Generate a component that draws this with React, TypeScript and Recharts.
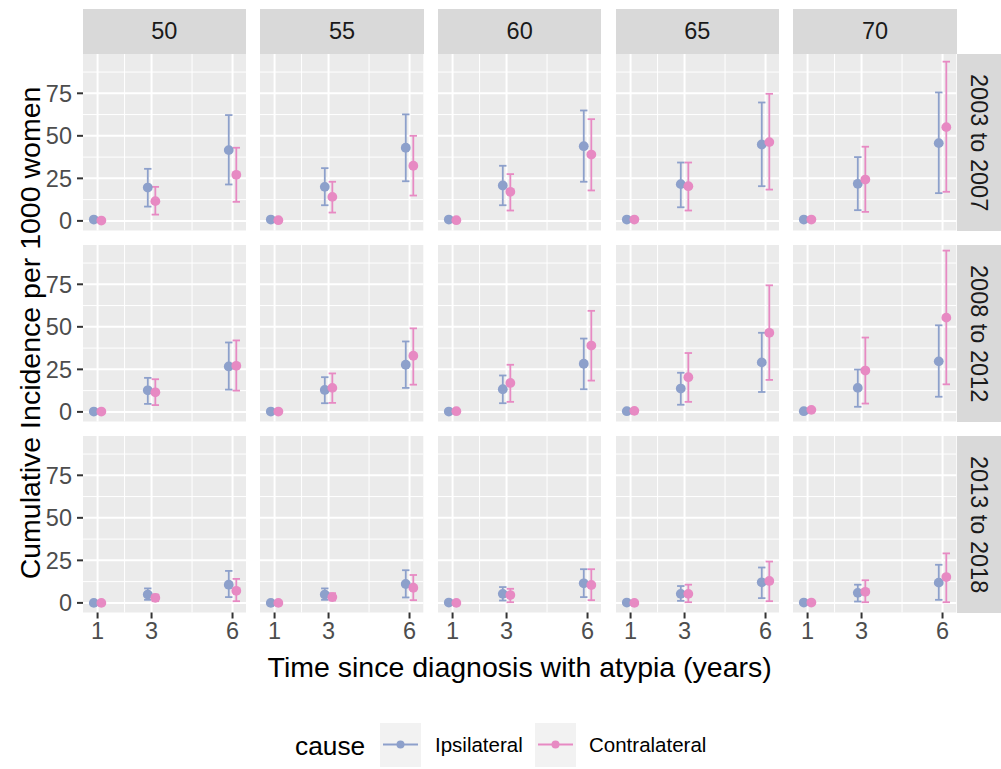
import { ScatterChart, Scatter, XAxis, YAxis, CartesianGrid, ErrorBar } from 'recharts';

const ages = ['50', '55', '60', '65', '70'];
const periods = ['2003 to 2007', '2008 to 2012', '2013 to 2018'];
const times = [1, 3, 6];
const causes = ['Ipsilateral', 'Contralateral'];
const yTicks = [0, 25, 50, 75];
const yMinor = [12.5, 37.5, 62.5, 87.5];
const xMinor = [2, 4.5];

// [period][age][time] -- per 1000 women
const ipsiEst = [
  [[0.8, 19.6, 41.6], [0.8, 20.0, 43.0], [0.8, 20.8, 43.9], [0.8, 21.6, 44.9], [0.8, 21.8, 45.7]],
  [[0.2, 12.7, 26.7], [0.2, 12.9, 27.7], [0.2, 13.3, 28.3], [0.4, 13.7, 29.1], [0.4, 14.1, 29.7]],
  [[0, 4.9, 10.7], [0, 4.9, 11.1], [0.2, 5.3, 11.5], [0.2, 5.3, 12.1], [0.2, 5.9, 11.9]],
];
const ipsiLow = [
  [[0, 8.4, 21.4], [0, 9.2, 23.3], [0, 9.2, 23.0], [0, 8.0, 20.4], [0, 6.3, 16.3]],
  [[0, 4.7, 13.1], [0, 5.1, 14.1], [0, 5.1, 13.3], [0, 4.2, 11.7], [0, 3.0, 8.9]],
  [[-0.5, 1.8, 3.4], [-0.5, 1.8, 3.2], [-0.5, 1.4, 3.4], [-0.5, 1.2, 2.8], [-0.5, 0.8, 1.8]],
];
const ipsiHigh = [
  [[1.8, 30.6, 62.2], [1.8, 31.0, 62.6], [1.8, 32.4, 64.9], [1.8, 34.3, 69.6], [1.8, 37.5, 75.5]],
  [[1, 20.0, 40.8], [1, 20.4, 41.4], [1, 21.4, 43.1], [1.2, 23.0, 46.5], [1.2, 24.9, 50.9]],
  [[0.5, 8.5, 18.8], [0.5, 8.5, 19.2], [0.8, 9.3, 19.8], [0.8, 9.9, 20.8], [0.8, 10.7, 22.4]],
];
const contraEst = [
  [[0.2, 11.6, 27.1], [0.4, 14.1, 32.4], [0.4, 17.1, 39.0], [0.8, 20.4, 46.3], [0.8, 24.3, 55.1]],
  [[0.2, 11.5, 27.1], [0.2, 14.1, 33.0], [0.4, 17.0, 39.0], [0.6, 20.4, 46.5], [1.2, 24.3, 55.4]],
  [[0, 3.0, 7.1], [0, 3.4, 8.9], [0, 4.6, 10.5], [0, 5.3, 12.9], [0.2, 6.5, 15.2]],
];
const contraLow = [
  [[0, 3.7, 11.2], [0, 4.9, 14.9], [0, 6.1, 17.9], [0, 6.1, 18.4], [0, 5.3, 17.1]],
  [[0, 4.0, 12.5], [0, 5.3, 16.0], [0, 5.9, 18.4], [0, 5.9, 18.8], [0, 4.9, 16.2]],
  [[-0.5, 1.0, 1.0], [-0.5, 1.4, 1.6], [-0.5, 0.4, 1.6], [-0.5, 0.4, 1.0], [-0.5, 0.4, 0.4]],
];
const contraHigh = [
  [[1.0, 20.0, 43.0], [1.2, 23.0, 50.0], [1.2, 27.5, 59.8], [1.6, 34.3, 74.7], [1.8, 43.6, 93.6]],
  [[1, 19.2, 42.0], [1, 22.6, 49.1], [1.2, 27.7, 59.4], [1.5, 34.6, 74.4], [2.2, 43.7, 94.8]],
  [[0.5, 4.9, 14.1], [0.5, 5.7, 16.4], [0.5, 8.3, 19.8], [0.8, 10.7, 24.3], [1, 13.3, 29.1]],
];

const COLORS = ['#8DA0CB', '#E78AC3'];
const DODGE = [-0.14, 0.14];
const EST = [ipsiEst, contraEst];
const LOW = [ipsiLow, contraLow];
const HIGH = [ipsiHigh, contraHigh];

const X0 = 82.7;
const STEP_X = 177.65;
const PW = 163.3;
const Y0 = 54;
const STEP_Y = 191;
const PH = 176.5;
const STRIP = 44.7;
const Y_AXIS_W = 50;
const X_AXIS_H = 40;
const LABEL_PAD = 14; // room under the left panels so the "0" label is not clipped
const FONT = '"Liberation Sans", Arial, sans-serif';
const TICK_SIZE = 23.5;
const TITLE_SIZE = 28.5;

function Panel({ row, col }: { row: number; col: number }) {
  const isLeft = col === 0;
  const isBottom = row === 2;
  const pad = isLeft && !isBottom ? LABEL_PAD : 0;
  const width = PW + (isLeft ? Y_AXIS_W : 0);
  const height = PH + (isBottom ? X_AXIS_H : 0) + pad;
  const left = X0 + col * STEP_X - (isLeft ? Y_AXIS_W : 0);
  const top = Y0 + row * STEP_Y;

  const series = causes.map((_, k) =>
    times.map((t, i) => {
      const y = EST[k][row][col][i];
      return { x: t + DODGE[k], y, err: [y - LOW[k][row][col][i], HIGH[k][row][col][i] - y] };
    })
  );

  const tickStyle = { fontSize: TICK_SIZE, fill: '#4D4D4D', fontFamily: FONT };

  return (
    <div style={{ position: 'absolute', left, top }}>
      <ScatterChart width={width} height={height} margin={{ top: 0, right: 0, bottom: pad, left: 0 }}>
        <CartesianGrid
          fill="#EBEBEB"
          stroke="#FFFFFF"
          strokeWidth={1}
          horizontalValues={yMinor}
          verticalValues={xMinor}
        />
        <CartesianGrid stroke="#FFFFFF" strokeWidth={2} horizontalValues={yTicks} verticalValues={times} />
        <XAxis
          type="number"
          dataKey="x"
          domain={[0.46, 6.51]}
          ticks={times}
          interval={0}
          allowDataOverflow
          hide={!isBottom}
          height={X_AXIS_H}
          axisLine={false}
          tickSize={6}
          tickMargin={4}
          tickLine={{ stroke: '#333333', strokeWidth: 2 }}
          tick={tickStyle}
        />
        <YAxis
          type="number"
          dataKey="y"
          domain={[-5.65, 98.1]}
          ticks={yTicks}
          interval={0}
          allowDataOverflow
          hide={!isLeft}
          width={Y_AXIS_W}
          axisLine={false}
          tickSize={6}
          tickMargin={5}
          tickLine={{ stroke: '#333333', strokeWidth: 2 }}
          tick={tickStyle}
        />
        {series.map((data, k) => (
          <Scatter
            key={'err' + k}
            data={data}
            isAnimationActive={false}
            shape={() => <g />}
          >
            <ErrorBar dataKey="err" direction="y" width={3.7} strokeWidth={1.8} stroke={COLORS[k]} />
          </Scatter>
        ))}
        {series.map((data, k) => (
          <Scatter
            key={'pt' + k}
            data={data}
            isAnimationActive={false}
            shape={(p: any) => <circle cx={p.cx} cy={p.cy} r={4.9} fill={COLORS[k]} />}
          />
        ))}
      </ScatterChart>
    </div>
  );
}

export default function App() {
  return (
    <div
      style={{
        position: 'absolute',
        left: 0,
        top: 0,
        width: 1001,
        height: 769,
        background: '#FFFFFF',
        fontFamily: FONT,
        overflow: 'hidden',
      }}
    >
      {ages.map((a, c) => (
        <div
          key={a}
          style={{
            position: 'absolute',
            left: X0 + c * STEP_X,
            top: Y0 - STRIP,
            width: PW,
            height: STRIP,
            background: '#D9D9D9',
            color: '#1A1A1A',
            fontSize: TICK_SIZE,
            display: 'flex',
            alignItems: 'center',
            justifyContent: 'center',
          }}
        >
          {a}
        </div>
      ))}
      {periods.map((p, r) => (
        <div
          key={p}
          style={{
            position: 'absolute',
            left: X0 + 4 * STEP_X + PW,
            top: Y0 + r * STEP_Y,
            width: STRIP,
            height: PH,
            background: '#D9D9D9',
            color: '#1A1A1A',
            fontSize: TICK_SIZE,
            display: 'flex',
            alignItems: 'center',
            justifyContent: 'center',
            writingMode: 'vertical-rl',
          }}
        >
          {p}
        </div>
      ))}
      {periods.map((p, r) => ages.map((a, c) => <Panel key={p + a} row={r} col={c} />))}
      <div
        style={{
          position: 'absolute',
          left: 30,
          top: 333,
          transform: 'translate(-50%, -50%) rotate(-90deg)',
          whiteSpace: 'nowrap',
          fontSize: TITLE_SIZE,
          color: '#000',
        }}
      >
        Cumulative Incidence per 1000 women
      </div>
      <div
        style={{
          position: 'absolute',
          left: 519.7,
          top: 667,
          transform: 'translate(-50%, -50%)',
          whiteSpace: 'nowrap',
          fontSize: TITLE_SIZE,
          color: '#000',
        }}
      >
        Time since diagnosis with atypia (years)
      </div>
      <div
        style={{ position: 'absolute', left: 295, top: 746, transform: 'translateY(-50%)', fontSize: 26.3 }}
      >
        cause
      </div>
      {causes.map((c, k) => (
        <div key={c}>
          <svg
            width={41}
            height={44}
            style={{ position: 'absolute', left: k === 0 ? 380 : 535, top: 723 }}
          >
            <rect x={0} y={0} width={41} height={44} fill="#F2F2F2" />
            <line x1={3} y1={21.5} x2={38} y2={21.5} stroke={COLORS[k]} strokeWidth={1.8} />
            <circle cx={20.5} cy={21.5} r={4} fill={COLORS[k]} />
          </svg>
          <div
            style={{
              position: 'absolute',
              left: k === 0 ? 435 : 589,
              top: 745,
              transform: 'translateY(-50%)',
              fontSize: 20.5,
              whiteSpace: 'nowrap',
            }}
          >
            {c}
          </div>
        </div>
      ))}
    </div>
  );
}
